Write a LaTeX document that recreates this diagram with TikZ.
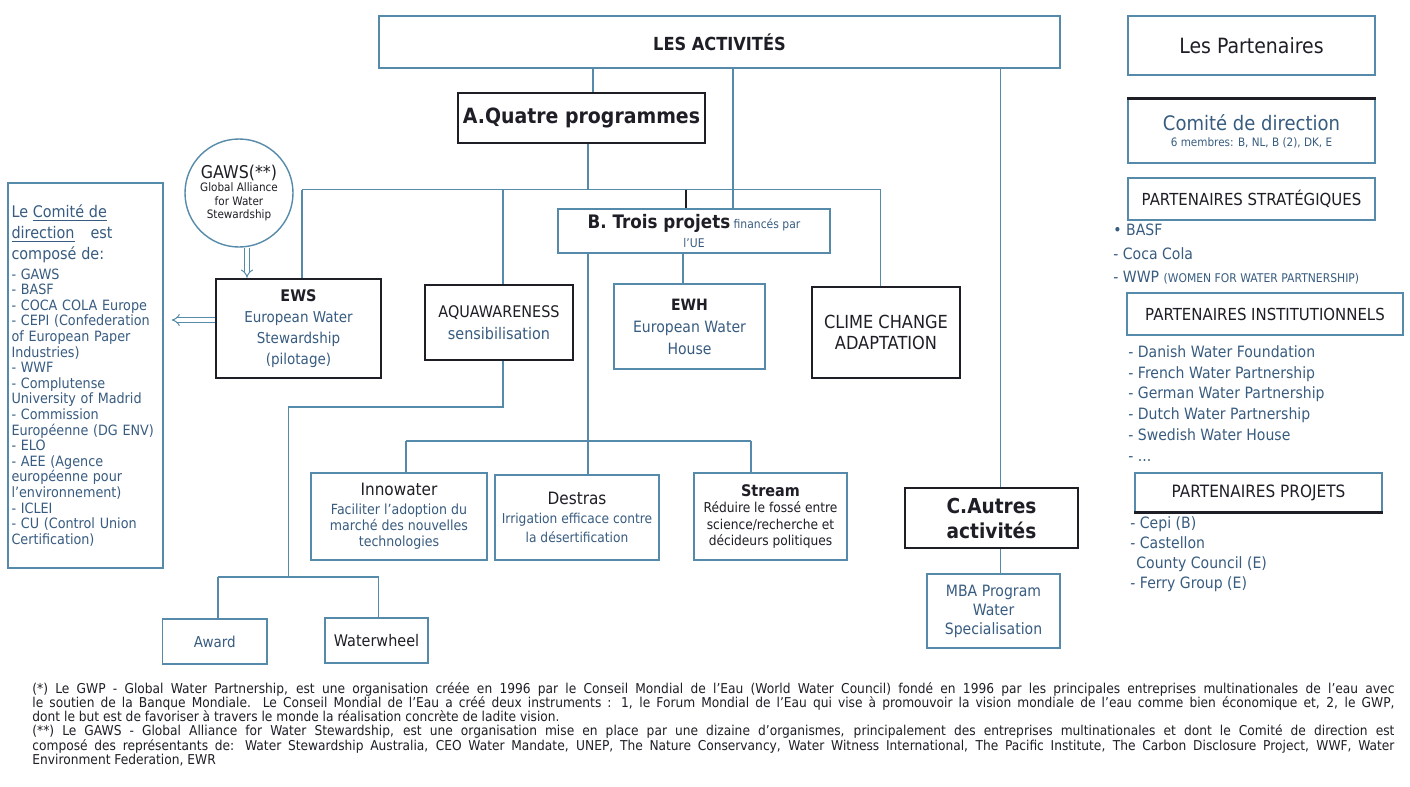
\documentclass[tikz,border=0pt]{standalone}
\usepackage{fontspec}
\setmainfont{DejaVu Sans}[FakeStretch=0.9]
\usepackage{tikz}
\usetikzlibrary{shapes,arrows,positioning,calc}
\definecolor{lineblue}{RGB}{86,138,170}
\definecolor{inkblue}{RGB}{56,92,128}
\definecolor{ink}{RGB}{30,30,38}
\newcommand{\fsz}[2]{\fontsize{#1}{#2}\selectfont}

\begin{document}
\begin{tikzpicture}[x=0.5pt, y=-0.5pt,
    box/.style={rectangle, draw=lineblue, line width=0.7pt, align=center, inner sep=1pt, text=ink},
    thickbox/.style={box, draw=ink, line width=1.3pt},
    rond/.style={circle, draw=lineblue, line width=0.7pt, minimum size=54pt, inner sep=0pt, align=center, text=ink},
    liste/.style={anchor=north west, align=left, inner sep=0pt, text=inkblue},
    link/.style={draw=lineblue, line width=0.7pt},
    dbl/.style={draw=lineblue, line width=0.5pt, double=white, double distance=1.6pt, -implies}
]
    % Fond
    \fill[white] (0,0) rectangle (1410,787);
    \useasboundingbox (0,0) rectangle (1410,787);

    % Les activites
    \node[box, minimum width=340.5pt, minimum height=26pt, font=\bfseries\fsz{9}{11}] (act) at (719.5,42) {LES ACTIVITÉS};
    \node[thickbox, minimum width=123.5pt, minimum height=25pt, font=\bfseries\fsz{10.5}{12}] (progA) at (581.5,118) {A.Quatre programmes};
    \node[box, minimum width=136pt, minimum height=22pt, font=\fsz{6}{7}] (projB) at (694,231)
        {{\bfseries\fsz{9.3}{10}B. Trois projets} {\color{inkblue}financés par}\\[2.5pt]{\color{inkblue}l'UE}};
    \node[thickbox, minimum width=86.5pt, minimum height=30pt, font=\bfseries\fsz{10.3}{12.5}] (autC) at (991.5,518) {C.Autres\\activités};

    % GAWS et comite de direction
    \node[rond, font=\fsz{5.8}{6.7}] (gaws) at (239,193) {{\fsz{8.8}{9}GAWS(**)}\\Global Alliance\\for Water\\Stewardship};
    \node[box, minimum width=77.5pt, minimum height=192.5pt, text width=74pt, align=left, font=\fsz{7.1}{7.8}, text=inkblue] (comite) at (85.5,375.5)
        {\fsz{8}{10.5}Le \underline{Comité de}\\\underline{direction}\quad est\\composé de:\\[2pt]
         \fsz{7.1}{7.8}- GAWS\\- BASF\\- COCA COLA Europe\\- CEPI (Confederation\\of European Paper\\Industries)\\- WWF\\- Complutense\\University of Madrid\\- Commission\\Européenne (DG ENV)\\- ELO\\- AEE (Agence\\européenne pour\\l'environnement)\\- ICLEI\\- CU (Control Union\\Certification)};

    % Programmes
    \node[thickbox, minimum width=82.5pt, minimum height=49.5pt, font=\fsz{7.5}{10.5}] (ews) at (298.5,328.5)
        {{\bfseries\fsz{8}{10}EWS}\\{\color{inkblue}European Water}\\{\color{inkblue}Stewardship}\\{\color{inkblue}(pilotage)}};
    \node[box, draw=ink, line width=0.9pt, minimum width=74pt, minimum height=37.5pt, font=\fsz{8}{11}] (aqua) at (499,322.5)
        {AQUAWARENESS\\{\color{inkblue}sensibilisation}};
    \node[box, minimum width=75.5pt, minimum height=42.5pt, font=\fsz{7.8}{11}] (ewh) at (689.5,326.5)
        {{\bfseries EWH}\\{\color{inkblue}European Water}\\{\color{inkblue}House}};
    \node[thickbox, minimum width=74pt, minimum height=45.5pt, font=\fsz{9}{10.5}] (clime) at (886,332.5) {CLIME CHANGE\\ADAPTATION};

    % Projets
    \node[box, minimum width=88pt, minimum height=43.5pt, font=\fsz{7}{8.2}] (innow) at (399,516.5)
        {{\fsz{8.5}{9}Innowater}\\[1pt]{\color{inkblue}Faciliter l'adoption du}\\{\color{inkblue}marché des nouvelles}\\{\color{inkblue}technologies}};
    \node[box, minimum width=82pt, minimum height=42.5pt, font=\fsz{6.8}{9.5}] (destras) at (577,517.5)
        {{\fsz{8.5}{9}Destras}\\{\color{inkblue}Irrigation efficace contre}\\{\color{inkblue}la désertification}};
    \node[box, minimum width=76.5pt, minimum height=43.5pt, font=\fsz{6.8}{8.3}] (stream) at (770.5,516.5)
        {{\bfseries\fsz{8}{9}Stream}\\Réduire le fossé entre\\science/recherche et\\décideurs politiques};
    \node[box, minimum width=52.25pt, minimum height=22.5pt, font=\fsz{7.5}{9}, text=inkblue] (award) at (214.75,641.5) {Award};
    \node[box, minimum width=51.5pt, minimum height=22.5pt, font=\fsz{8}{9}] (waterw) at (376.5,640.5) {Waterwheel};
    \node[box, minimum width=66.5pt, minimum height=37pt, font=\fsz{7.8}{9.5}, text=inkblue] (mba) at (993.5,611) {MBA Program\\Water\\Specialisation};

    % Les partenaires
    \node[box, minimum width=123.5pt, minimum height=29.5pt, font=\fsz{10.5}{12}] (partners) at (1251.5,45.5) {Les Partenaires};
    \node[box, minimum width=123.5pt, minimum height=32pt, font=\fsz{5.8}{7}] (comdir) at (1251.5,131)
        {{\color{inkblue}\fsz{10}{11}Comité de direction}\\[1pt]{\color{inkblue}6 membres: B, NL, B (2), DK, E}};
    \draw[ink, line width=1.3pt] (comdir.north west) -- (comdir.north east);
    \node[box, minimum width=123.5pt, minimum height=21pt, font=\fsz{8.3}{10}] (strat) at (1251.5,199) {PARTENAIRES STRATÉGIQUES};
    \node[liste, font=\fsz{7.8}{11.7}] (stratlist) at (1113,224)
        {• BASF\\- Coca Cola\\- WWP {\fsz{6}{7}(WOMEN FOR WATER PARTNERSHIP)}};
    \node[box, minimum width=138pt, minimum height=21pt, font=\fsz{8.3}{10}] (instit) at (1265,314) {PARTENAIRES INSTITUTIONNELS};
    \node[liste, font=\fsz{7.8}{10.4}] (institlist) at (1128,345)
        {- Danish Water Foundation\\- French Water Partnership\\- German Water Partnership\\- Dutch Water Partnership\\- Swedish Water House\\- ...};
    \node[box, minimum width=123.5pt, minimum height=19.5pt, font=\fsz{8.5}{10}] (projets) at (1258.5,492.5) {PARTENAIRES PROJETS};
    \draw[ink, line width=1.3pt] (projets.south west) -- (projets.south east);
    \node[liste, font=\fsz{7.8}{10}] (projlist) at (1130,516)
        {- Cepi (B)\\- Castellon\\\hspace{3pt}County Council (E)\\- Ferry Group (E)};

    % Notes
    \node[anchor=north west, align=left, inner sep=0pt, font=\fsz{6.8}{7.1}, text=ink] (notes) at (32,682)
        {\makebox[681pt][s]{(*) Le GWP - Global Water Partnership, est une organisation créée en 1996 par le Conseil Mondial de l'Eau (World Water Council) fondé en 1996 par les principales entreprises multinationales de l'eau avec}\\
         \makebox[681pt][s]{le soutien de la Banque Mondiale. Le Conseil Mondial de l'Eau a créé deux instruments : 1, le Forum Mondial de l'Eau qui vise à promouvoir la vision mondiale de l'eau comme bien économique et, 2, le GWP,}\\
         dont le but est de favoriser à travers le monde la réalisation concrète de ladite vision.\\
         \makebox[681pt][s]{(**) Le GAWS - Global Alliance for Water Stewardship, est une organisation mise en place par une dizaine d'organismes, principalement des entreprises multinationales et dont le Comité de direction est}\\
         \makebox[681pt][s]{composé des représentants de: Water Stewardship Australia, CEO Water Mandate, UNEP, The Nature Conservancy, Water Witness International, The Pacific Institute, The Carbon Disclosure Project, WWF, Water}\\
         Environment Federation, EWR};

    % Points de jonction
    \coordinate (xa) at (593,0);
    \coordinate (xb) at (733,0);
    \coordinate (xc) at (1000.5,0);
    \coordinate (xm) at (588,0);
    \coordinate (xq) at (503,0);
    \coordinate (xt) at (686,0);
    \coordinate (xe) at (683,0);
    \coordinate (xg) at (247,0);
    \coordinate (yarr) at (0,320);
    \coordinate (bus1) at (302,189.5);
    \coordinate (bus1e) at (880.5,189.5);
    \coordinate (bus2) at (406,441);
    \coordinate (bus2e) at (751,441);
    \coordinate (coude) at (288.5,407);
    \coordinate (bus3) at (218,577);
    \coordinate (bus3e) at (378.5,577);

    % Liaisons
    \draw[link] (act.south -| xa) -- (progA.north -| xa);
    \draw[link] (act.south -| xb) -- (projB.north -| xb);
    \draw[link] (act.south -| xc) -- (autC.north -| xc);
    \draw[link] (progA.south -| xm) -- (bus1 -| xm);
    \draw[link] (bus1) -- (bus1e);
    \draw[link] (bus1) -- (bus1 |- ews.north);
    \draw[link] (bus1 -| xq) -- (aqua.north -| xq);
    \draw[ink, line width=1.2pt] (bus1 -| xt) -- (projB.north -| xt);
    \draw[link] (bus1e) -- (bus1e |- clime.north);
    \draw[link] (projB.south -| xe) -- (ewh.north -| xe);
    \draw[link] (projB.south -| xm) -- (bus2 -| xm);
    \draw[link] (bus2) -- (bus2e);
    \draw[link] (bus2) -- (bus2 |- innow.north);
    \draw[link] (bus2 -| xm) -- (destras.north -| xm);
    \draw[link] (bus2e) -- (bus2e |- stream.north);
    \draw[link] (aqua.south -| xq) |- (coude) -- (coude |- bus3);
    \draw[link] (bus3) -- (bus3e);
    \draw[link] (bus3) -- (bus3 |- award.north);
    \draw[link] (bus3e) -- (bus3e |- waterw.north);
    \draw[link] (autC.south -| xc) -- (mba.north -| xc);
    \draw[dbl] (gaws.south -| xg) -- (ews.north -| xg);
    \draw[dbl, shorten >=4pt] (ews.west |- yarr) -- (comite.east |- yarr);
\end{tikzpicture}
\end{document}
